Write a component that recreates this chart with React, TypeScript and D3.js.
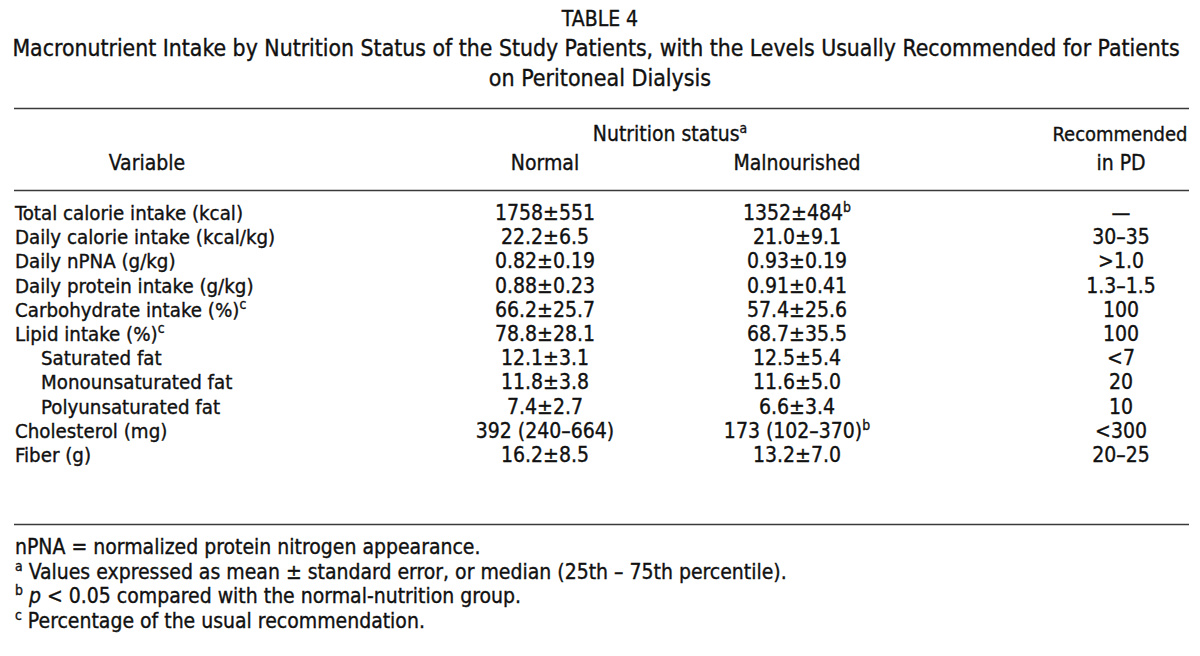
import React from "react";
import * as d3 from "d3";

const tableLabel = "TABLE 4";
const titleLines = [
  "Macronutrient Intake by Nutrition Status of the Study Patients, with the Levels Usually Recommended for Patients",
  "on Peritoneal Dialysis",
];
const variables = [
  "Total calorie intake (kcal)",
  "Daily calorie intake (kcal/kg)",
  "Daily nPNA (g/kg)",
  "Daily protein intake (g/kg)",
  "Carbohydrate intake (%)",
  "Lipid intake (%)",
  "Saturated fat",
  "Monounsaturated fat",
  "Polyunsaturated fat",
  "Cholesterol (mg)",
  "Fiber (g)",
];
const variableSup = ["", "", "", "", "c", "c", "", "", "", "", ""];
const indented = [false, false, false, false, false, false, true, true, true, false, false];
const normalValues = [
  "1758±551", "22.2±6.5", "0.82±0.19", "0.88±0.23", "66.2±25.7", "78.8±28.1",
  "12.1±3.1", "11.8±3.8", "7.4±2.7", "392 (240–664)", "16.2±8.5",
];
const normalSup = ["", "", "", "", "", "", "", "", "", "", ""];
const malnourishedValues = [
  "1352±484", "21.0±9.1", "0.93±0.19", "0.91±0.41", "57.4±25.6", "68.7±35.5",
  "12.5±5.4", "11.6±5.0", "6.6±3.4", "173 (102–370)", "13.2±7.0",
];
const malnourishedSup = ["b", "", "", "", "", "", "", "", "", "b", ""];
const recommended = [
  "—", "30–35", ">1.0", "1.3–1.5", "100", "100", "<7", "20", "10", "<300", "20–25",
];
const columnKeys = ["variable", "normal", "malnourished", "recommended"];

const FONT = "'DejaVu Sans Condensed', 'Liberation Sans', sans-serif";
const FS = 21;
const INK = "#111";

function Sup({ s }: { s: string }) {
  if (!s) return null;
  return (
    <tspan fontSize={FS * 0.66} dy={-8}>
      {s}
    </tspan>
  );
}

export default function App() {
  const W = 1200;
  const H = 656;
  const x = d3
    .scaleOrdinal<string, number>()
    .domain(columnKeys)
    .range([15, 545, 797, 1121]);
  const y = d3
    .scalePoint<number>()
    .domain(d3.range(variables.length))
    .range([220, 462]);
  const ruleX = [14, 1189];

  return (
    <svg
      width={W}
      height={H}
      style={{ position: "absolute", left: 0, top: 0, background: "#fff" }}
      fontFamily={FONT}
      fontSize={FS}
      fill={INK}
      stroke={INK}
      strokeWidth={0.35}
    >
      <text x={600} y={26} textAnchor="middle">{tableLabel}</text>
      <text x={596} y={56} textAnchor="middle" fontSize={22.8}>{titleLines[0]}</text>
      <text x={600} y={86} textAnchor="middle" fontSize={23}>{titleLines[1]}</text>

      <g stroke="#3a3a3a" strokeWidth={1.4}>
        <line x1={ruleX[0]} x2={ruleX[1]} y1={108.5} y2={108.5} />
        <line x1={ruleX[0]} x2={ruleX[1]} y1={190.5} y2={190.5} />
        <line x1={ruleX[0]} x2={ruleX[1]} y1={524.5} y2={524.5} />
      </g>

      <text x={670} y={141} textAnchor="middle">
        Nutrition status<Sup s="a" />
      </text>
      <text x={1120} y={141} textAnchor="middle" fontSize={20}>Recommended</text>
      <text x={147} y={170} textAnchor="middle">Variable</text>
      <text x={x("normal")} y={170} textAnchor="middle">Normal</text>
      <text x={x("malnourished")} y={170} textAnchor="middle">Malnourished</text>
      <text x={x("recommended")} y={170} textAnchor="middle">in PD</text>

      {variables.map((v, i) => (
        <g key={i}>
          <text x={x("variable") + (indented[i] ? 26 : 0)} y={y(i)} fontSize={20.3}>
            {v}
            <Sup s={variableSup[i]} />
          </text>
          <text x={x("normal")} y={y(i)} textAnchor="middle">
            {normalValues[i]}
            <Sup s={normalSup[i]} />
          </text>
          <text x={x("malnourished")} y={y(i)} textAnchor="middle">
            {malnourishedValues[i]}
            <Sup s={malnourishedSup[i]} />
          </text>
          <text x={x("recommended")} y={y(i)} textAnchor="middle">
            {recommended[i]}
          </text>
        </g>
      ))}

      <text x={15} y={554}>nPNA = normalized protein nitrogen appearance.</text>
      <text x={15} y={579}>
        <tspan fontSize={FS * 0.66} dy={-8}>a</tspan>
        <tspan dy={8}> Values expressed as mean ± standard error, or median (25th – 75th percentile).</tspan>
      </text>
      <text x={15} y={603}>
        <tspan fontSize={FS * 0.66} dy={-8}>b</tspan>
        <tspan dy={8}> </tspan>
        <tspan fontStyle="italic">p</tspan>
        <tspan> &lt; 0.05 compared with the normal-nutrition group.</tspan>
      </text>
      <text x={15} y={628}>
        <tspan fontSize={FS * 0.66} dy={-8}>c</tspan>
        <tspan dy={8}> Percentage of the usual recommendation.</tspan>
      </text>
    </svg>
  );
}
